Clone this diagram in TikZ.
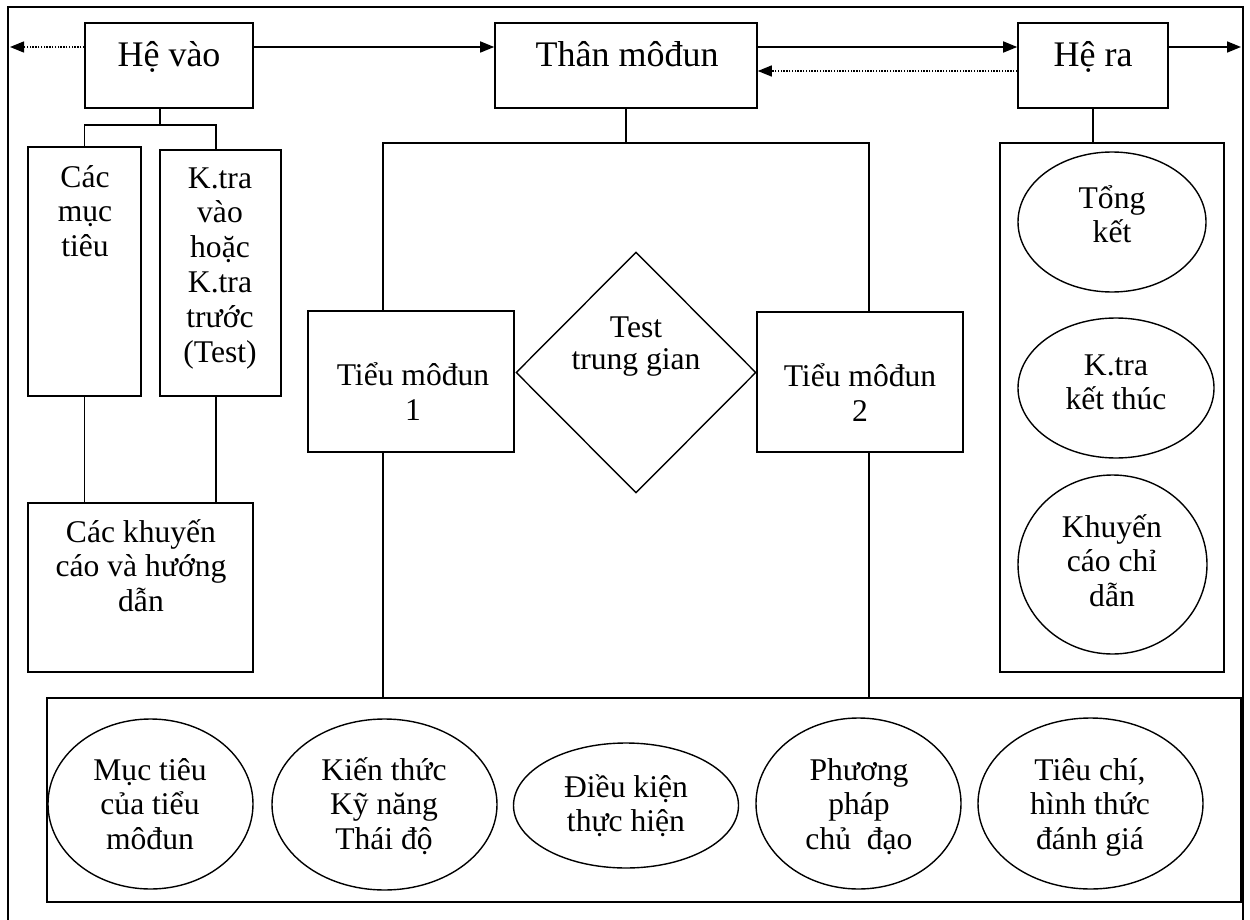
\documentclass[tikz,border=0pt]{standalone}
\usepackage{fontspec}
\setmainfont{Liberation Serif}
\usetikzlibrary{arrows.meta,shapes.geometric}
\begin{document}
\begin{tikzpicture}[x=1pt,y=-1pt,
 box/.style={draw,line width=1.6pt,rectangle,inner sep=0pt},
 oval/.style={draw,line width=1.4pt,ellipse,inner sep=0pt},
 txt/.style={anchor=base,align=center,inner sep=0pt,font=\fontsize{31.6}{34.8}\selectfont},
 ttl/.style={anchor=base,inner sep=0pt,font=\fontsize{36}{40}\selectfont},
 ln/.style={line width=1.5pt},
 arr/.style={line width=1.6pt,-{Triangle[length=14pt,width=11pt]}},
 dotarr/.style={line width=1.4pt,dash pattern=on 1.4pt off 1.4pt,-{Triangle[length=14pt,width=11pt]}}
]
\useasboundingbox (0,0) rectangle (1250,920);
% outer frame
\draw[line width=2pt] (8,935) -- (8,7) -- (1243,7) -- (1243,935);

% top boxes
\node[box,minimum width=168pt,minimum height=85pt] (hv) at (169,65.5) {};
\node[box,minimum width=262pt,minimum height=85pt] (tm) at (626,65.5) {};
\node[box,minimum width=150pt,minimum height=85pt] (hr) at (1093,65.5) {};
\node[ttl] (hvt) at (169,67) {Hệ vào};
\node[ttl] (tmt) at (627,67) {Thân môđun};
\node[ttl] (hrt) at (1093,67) {Hệ ra};

% left column
\node[box,minimum width=113pt,minimum height=249pt] (mt) at (84.5,271.5) {};
\node[box,minimum width=121pt,minimum height=246pt] (kt) at (220.5,273) {};
\node[box,minimum width=225pt,minimum height=169pt] (kc) at (140.5,587.5) {};
\node[txt] (mtt) at (85,256.6) {Các\\mục\\tiêu};
\node[txt] (ktt) at (220,362) {K.tra\\vào\\hoặc\\K.tra\\trước\\(Test)};
\node[txt] (kct) at (141,611.6) {Các khuyến\\cáo và hướng\\dẫn};

% middle
\node[box,minimum width=206pt,minimum height=141pt] (t1) at (411,381.5) {};
\node[box,minimum width=206pt,minimum height=140pt] (t2) at (860,382) {};
\node[draw,line width=1.4pt,diamond,aspect=1,minimum width=240pt,minimum height=241pt,inner sep=0pt] (dm) at (636,372.5) {};
\node[txt] (t1t) at (413,420) {Tiểu môđun\\1};
\node[txt] (t2t) at (860,421) {Tiểu môđun\\2};
\node[txt,font=\fontsize{31.6}{32.5}\selectfont] (dmt) at (636,369.5) {Test\\trung gian};

% right column
\node[draw,line width=1.6pt,rectangle,inner sep=0pt,minimum width=224pt,minimum height=529pt] (rc) at (1112,407.5) {};
\node[oval,minimum width=188pt,minimum height=140pt] (e1) at (1112,222) {};
\node[oval,minimum width=196pt,minimum height=140pt] (e2) at (1116,388) {};
\node[oval,minimum width=189pt,minimum height=179pt] (e3) at (1112.5,564.5) {};
\node[txt] (e1t) at (1112,242.8) {Tổng\\kết};
\node[txt] (e2t) at (1116,409.8) {K.tra\\kết thúc};
\node[txt] (e3t) at (1112,606.6) {Khuyến\\cáo chỉ\\dẫn};

% bottom
\node[draw,line width=1.5pt,rectangle,inner sep=0pt,minimum width=1194pt,minimum height=204pt] (bb) at (644,800) {};
\node[oval,minimum width=205pt,minimum height=170pt] (b1) at (150.5,804) {};
\node[oval,minimum width=225pt,minimum height=171pt] (b2) at (384.5,804.5) {};
\node[oval,minimum width=225pt,minimum height=125pt] (b3) at (626,805.5) {};
\node[oval,minimum width=205pt,minimum height=171pt] (b4) at (858.5,803.5) {};
\node[oval,minimum width=225pt,minimum height=171pt] (b5) at (1090.5,803.5) {};
\node[txt] (b1t) at (150,849.6) {Mục tiêu\\của tiểu\\môđun};
\node[txt] (b2t) at (384,849.6) {Kiến thức\\Kỹ năng\\Thái độ};
\node[txt] (b3t) at (626,831.8) {Điều kiện\\thực hiện};
\node[txt] (b4t) at (859,849.6) {Phương\\pháp\\chủ~ đạo};
\node[txt] (b5t) at (1090,849.6) {Tiêu chí,\\hình thức\\đánh giá};

% coordinates
\coordinate (L) at (10,47);
\coordinate (R) at (1241,47);
\coordinate (ya) at (0,47);
\coordinate (yb) at (0,71);
\coordinate (br) at (160,125);
\coordinate (kx) at (216,0);
\coordinate (c1) at (383,143);
\coordinate (c2) at (869,143);

% top arrows
\draw[dotarr] (hv.west |- ya) -- (L);
\draw[arr] (hv.east |- ya) -- (tm.west |- ya);
\draw[arr] (tm.east |- ya) -- (hr.west |- ya);
\draw[arr] (hr.east |- ya) -- (R);
\draw[dotarr] (hr.west |- yb) -- (tm.east |- yb);

% left connectors
\draw[ln] (hv.south -| br) -- (br);
\draw[ln] (mt.north) -- (mt.north |- br) -- (kx |- br) -- (kx |- kt.north);
\draw[ln] (mt.south) -- (mt.south |- kc.north);
\draw[ln] (kx |- kt.south) -- (kx |- kc.north);

% middle connectors
\draw[ln] (tm.south) -- (tm.south |- c1);
\draw[ln] (c1 |- t1.north) -- (c1) -- (c2) -- (c2 |- t2.north);
\draw[ln] (c1 |- t1.south) -- (c1 |- bb.north);
\draw[ln] (c2 |- t2.south) -- (c2 |- bb.north);

% right connector
\draw[ln] (hr.south) -- (hr.south |- rc.north);
\end{tikzpicture}
\end{document}
